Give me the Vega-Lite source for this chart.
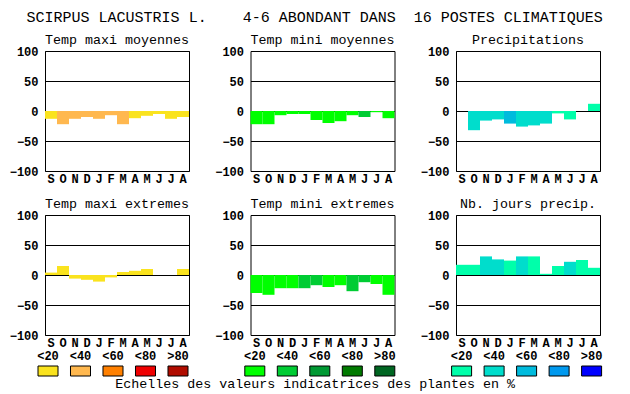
{
  "$schema": "https://vega.github.io/schema/vega-lite/v6.json",
  "background": "white",
  "padding": {"left": 8, "top": 10, "right": 5, "bottom": 2},
  "title": {"text": "SCIRPUS LACUSTRIS L.\u00a0\u00a0\u00a0\u00a04-6 ABONDANT DANS\u00a0\u00a016 POSTES CLIMATIQUES", "font": "Liberation Mono", "fontSize": 15, "fontWeight": "normal", "color": "black", "anchor": "middle", "frame": "bounds", "offset": 7, "dx": 6},
  "config": {
    "view": {"stroke": "black", "strokeWidth": 1},
    "title": {"font": "Liberation Mono", "fontSize": 13.33, "fontWeight": "normal", "color": "black", "anchor": "middle", "frame": "group", "offset": -1},
    "axis": {"labelFont": "Liberation Mono", "labelFontWeight": "bold", "labelFontSize": 12, "labelColor": "black", "ticks": false, "tickSize": 0, "domain": false, "labelFlush": false, "labelOverlap": false},
    "axisY": {"labelPadding": 7, "grid": true, "gridColor": "black", "gridOpacity": 1, "gridWidth": 1, "zindex": 1},
    "axisX": {"labelPadding": 2, "labelAngle": 0, "grid": false}
  },
  "datasets": {
    "clim": [
      {"panel": "Temp maxi moyennes", "mois": "Sep", "valeur": -13, "classe": "<20"},
      {"panel": "Temp maxi moyennes", "mois": "Oct", "valeur": -22, "classe": "<40"},
      {"panel": "Temp maxi moyennes", "mois": "Nov", "valeur": -13, "classe": "<40"},
      {"panel": "Temp maxi moyennes", "mois": "Dec", "valeur": -10, "classe": "<40"},
      {"panel": "Temp maxi moyennes", "mois": "Jan", "valeur": -13, "classe": "<40"},
      {"panel": "Temp maxi moyennes", "mois": "Fev", "valeur": -7, "classe": "<40"},
      {"panel": "Temp maxi moyennes", "mois": "Mar", "valeur": -22, "classe": "<40"},
      {"panel": "Temp maxi moyennes", "mois": "Avr", "valeur": -12, "classe": "<20"},
      {"panel": "Temp maxi moyennes", "mois": "Mai", "valeur": -8, "classe": "<20"},
      {"panel": "Temp maxi moyennes", "mois": "Juin", "valeur": -5, "classe": "<20"},
      {"panel": "Temp maxi moyennes", "mois": "Juil", "valeur": -13, "classe": "<20"},
      {"panel": "Temp maxi moyennes", "mois": "Aou", "valeur": -10, "classe": "<20"},
      {"panel": "Temp mini moyennes", "mois": "Sep", "valeur": -22, "classe": "<20"},
      {"panel": "Temp mini moyennes", "mois": "Oct", "valeur": -22, "classe": "<20"},
      {"panel": "Temp mini moyennes", "mois": "Nov", "valeur": -7, "classe": "<20"},
      {"panel": "Temp mini moyennes", "mois": "Dec", "valeur": -5, "classe": "<20"},
      {"panel": "Temp mini moyennes", "mois": "Jan", "valeur": -5, "classe": "<20"},
      {"panel": "Temp mini moyennes", "mois": "Fev", "valeur": -15, "classe": "<20"},
      {"panel": "Temp mini moyennes", "mois": "Mar", "valeur": -20, "classe": "<20"},
      {"panel": "Temp mini moyennes", "mois": "Avr", "valeur": -17, "classe": "<20"},
      {"panel": "Temp mini moyennes", "mois": "Mai", "valeur": -7, "classe": "<20"},
      {"panel": "Temp mini moyennes", "mois": "Juin", "valeur": -10, "classe": "<40"},
      {"panel": "Temp mini moyennes", "mois": "Juil", "valeur": -2, "classe": "<20"},
      {"panel": "Temp mini moyennes", "mois": "Aou", "valeur": -12, "classe": "<20"},
      {"panel": "Precipitations", "mois": "Sep", "valeur": 0, "classe": "<20"},
      {"panel": "Precipitations", "mois": "Oct", "valeur": -32, "classe": "<40"},
      {"panel": "Precipitations", "mois": "Nov", "valeur": -16, "classe": "<40"},
      {"panel": "Precipitations", "mois": "Dec", "valeur": -14, "classe": "<40"},
      {"panel": "Precipitations", "mois": "Jan", "valeur": -21, "classe": "<60"},
      {"panel": "Precipitations", "mois": "Fev", "valeur": -26, "classe": "<40"},
      {"panel": "Precipitations", "mois": "Mar", "valeur": -24, "classe": "<40"},
      {"panel": "Precipitations", "mois": "Avr", "valeur": -21, "classe": "<40"},
      {"panel": "Precipitations", "mois": "Mai", "valeur": -4, "classe": "<20"},
      {"panel": "Precipitations", "mois": "Juin", "valeur": -14, "classe": "<20"},
      {"panel": "Precipitations", "mois": "Juil", "valeur": 0, "classe": "<20"},
      {"panel": "Precipitations", "mois": "Aou", "valeur": 12, "classe": "<20"},
      {"panel": "Temp maxi extremes", "mois": "Sep", "valeur": 4, "classe": "<20"},
      {"panel": "Temp maxi extremes", "mois": "Oct", "valeur": 15, "classe": "<20"},
      {"panel": "Temp maxi extremes", "mois": "Nov", "valeur": -6, "classe": "<20"},
      {"panel": "Temp maxi extremes", "mois": "Dec", "valeur": -8, "classe": "<20"},
      {"panel": "Temp maxi extremes", "mois": "Jan", "valeur": -11, "classe": "<20"},
      {"panel": "Temp maxi extremes", "mois": "Fev", "valeur": -4, "classe": "<20"},
      {"panel": "Temp maxi extremes", "mois": "Mar", "valeur": 5, "classe": "<20"},
      {"panel": "Temp maxi extremes", "mois": "Avr", "valeur": 7, "classe": "<20"},
      {"panel": "Temp maxi extremes", "mois": "Mai", "valeur": 10, "classe": "<20"},
      {"panel": "Temp maxi extremes", "mois": "Juin", "valeur": 0, "classe": "<20"},
      {"panel": "Temp maxi extremes", "mois": "Juil", "valeur": 0, "classe": "<20"},
      {"panel": "Temp maxi extremes", "mois": "Aou", "valeur": 10, "classe": "<20"},
      {"panel": "Temp mini extremes", "mois": "Sep", "valeur": -30, "classe": "<20"},
      {"panel": "Temp mini extremes", "mois": "Oct", "valeur": -33, "classe": "<20"},
      {"panel": "Temp mini extremes", "mois": "Nov", "valeur": -22, "classe": "<20"},
      {"panel": "Temp mini extremes", "mois": "Dec", "valeur": -22, "classe": "<20"},
      {"panel": "Temp mini extremes", "mois": "Jan", "valeur": -22, "classe": "<40"},
      {"panel": "Temp mini extremes", "mois": "Fev", "valeur": -17, "classe": "<40"},
      {"panel": "Temp mini extremes", "mois": "Mar", "valeur": -20, "classe": "<20"},
      {"panel": "Temp mini extremes", "mois": "Avr", "valeur": -17, "classe": "<20"},
      {"panel": "Temp mini extremes", "mois": "Mai", "valeur": -27, "classe": "<40"},
      {"panel": "Temp mini extremes", "mois": "Juin", "valeur": -12, "classe": "<40"},
      {"panel": "Temp mini extremes", "mois": "Juil", "valeur": -15, "classe": "<20"},
      {"panel": "Temp mini extremes", "mois": "Aou", "valeur": -33, "classe": "<20"},
      {"panel": "Nb. jours precip.", "mois": "Sep", "valeur": 17, "classe": "<20"},
      {"panel": "Nb. jours precip.", "mois": "Oct", "valeur": 17, "classe": "<20"},
      {"panel": "Nb. jours precip.", "mois": "Nov", "valeur": 31, "classe": "<40"},
      {"panel": "Nb. jours precip.", "mois": "Dec", "valeur": 26, "classe": "<40"},
      {"panel": "Nb. jours precip.", "mois": "Jan", "valeur": 24, "classe": "<20"},
      {"panel": "Nb. jours precip.", "mois": "Fev", "valeur": 31, "classe": "<40"},
      {"panel": "Nb. jours precip.", "mois": "Mar", "valeur": 31, "classe": "<20"},
      {"panel": "Nb. jours precip.", "mois": "Avr", "valeur": 2, "classe": "<20"},
      {"panel": "Nb. jours precip.", "mois": "Mai", "valeur": 15, "classe": "<20"},
      {"panel": "Nb. jours precip.", "mois": "Juin", "valeur": 22, "classe": "<40"},
      {"panel": "Nb. jours precip.", "mois": "Juil", "valeur": 25, "classe": "<20"},
      {"panel": "Nb. jours precip.", "mois": "Aou", "valeur": 12, "classe": "<20"}
    ],
    "classes": [
      {"classe": "<20"}, {"classe": "<40"}, {"classe": "<60"}, {"classe": "<80"}, {"classe": ">80"}
    ]
  },
  "spacing": 11,
  "resolve": {"scale": {"color": "independent"}},
  "vconcat": [
    {
      "hconcat": [
        {
          "width": 144, "height": 120,
          "title": {"text": "Temp maxi moyennes"},
          "data": {"name": "clim"},
          "transform": [{"filter": "datum.panel === 'Temp maxi moyennes'"}],
          "mark": {"type": "bar"},
          "encoding": {
            "x": {"field": "mois", "type": "nominal", "sort": ["Sep","Oct","Nov","Dec","Jan","Fev","Mar","Avr","Mai","Juin","Juil","Aou"], "scale": {"paddingInner": 0, "paddingOuter": 0}, "axis": {"title": null, "labelExpr": "substring(datum.label, 0, 1)"}},
            "y": {"field": "valeur", "type": "quantitative", "scale": {"domain": [-100, 100], "nice": false}, "axis": {"title": null, "values": [-100, -50, 0, 50, 100]}},
            "color": {"field": "classe", "type": "nominal", "scale": {"domain": ["<20","<40","<60","<80",">80"], "range": ["#FAE31E","#FFB84F","#FF8000","#EE0000","#B00C00"]}, "legend": null}
          }
        },
        {
          "width": 144, "height": 120,
          "title": {"text": "Temp mini moyennes"},
          "data": {"name": "clim"},
          "transform": [{"filter": "datum.panel === 'Temp mini moyennes'"}],
          "mark": {"type": "bar"},
          "encoding": {
            "x": {"field": "mois", "type": "nominal", "sort": ["Sep","Oct","Nov","Dec","Jan","Fev","Mar","Avr","Mai","Juin","Juil","Aou"], "scale": {"paddingInner": 0, "paddingOuter": 0}, "axis": {"title": null, "labelExpr": "substring(datum.label, 0, 1)"}},
            "y": {"field": "valeur", "type": "quantitative", "scale": {"domain": [-100, 100], "nice": false}, "axis": {"title": null, "values": [-100, -50, 0, 50, 100]}},
            "color": {"field": "classe", "type": "nominal", "scale": {"domain": ["<20","<40","<60","<80",">80"], "range": ["#00FF00","#00CC33","#009933","#007A00","#006622"]}, "legend": null}
          }
        },
        {
          "width": 144, "height": 120,
          "title": {"text": "Precipitations"},
          "data": {"name": "clim"},
          "transform": [{"filter": "datum.panel === 'Precipitations'"}],
          "mark": {"type": "bar"},
          "encoding": {
            "x": {"field": "mois", "type": "nominal", "sort": ["Sep","Oct","Nov","Dec","Jan","Fev","Mar","Avr","Mai","Juin","Juil","Aou"], "scale": {"paddingInner": 0, "paddingOuter": 0}, "axis": {"title": null, "labelExpr": "substring(datum.label, 0, 1)"}},
            "y": {"field": "valeur", "type": "quantitative", "scale": {"domain": [-100, 100], "nice": false}, "axis": {"title": null, "values": [-100, -50, 0, 50, 100]}},
            "color": {"field": "classe", "type": "nominal", "scale": {"domain": ["<20","<40","<60","<80",">80"], "range": ["#00FFAA","#00DDCC","#00BBDD","#0099EE","#0000FF"]}, "legend": null}
          }
        }
      ],
      "spacing": 23.5,
      "resolve": {"scale": {"color": "independent"}}
    },
    {
      "title": {"text": "Echelles des valeurs indicatrices des plantes en %", "orient": "bottom", "anchor": "middle", "frame": "bounds", "offset": 0, "dx": 6.5},
      "spacing": 0,
      "resolve": {"scale": {"color": "independent"}},
      "vconcat": [
        {
          "hconcat": [
            {
              "width": 144, "height": 120,
              "title": {"text": "Temp maxi extremes"},
              "data": {"name": "clim"},
              "transform": [{"filter": "datum.panel === 'Temp maxi extremes'"}],
              "mark": {"type": "bar"},
              "encoding": {
                "x": {"field": "mois", "type": "nominal", "sort": ["Sep","Oct","Nov","Dec","Jan","Fev","Mar","Avr","Mai","Juin","Juil","Aou"], "scale": {"paddingInner": 0, "paddingOuter": 0}, "axis": {"title": null, "labelExpr": "substring(datum.label, 0, 1)"}},
                "y": {"field": "valeur", "type": "quantitative", "scale": {"domain": [-100, 100], "nice": false}, "axis": {"title": null, "values": [-100, -50, 0, 50, 100]}},
                "color": {"field": "classe", "type": "nominal", "scale": {"domain": ["<20","<40","<60","<80",">80"], "range": ["#FAE31E","#FFB84F","#FF8000","#EE0000","#B00C00"]}, "legend": null}
              }
            },
            {
              "width": 144, "height": 120,
              "title": {"text": "Temp mini extremes"},
              "data": {"name": "clim"},
              "transform": [{"filter": "datum.panel === 'Temp mini extremes'"}],
              "mark": {"type": "bar"},
              "encoding": {
                "x": {"field": "mois", "type": "nominal", "sort": ["Sep","Oct","Nov","Dec","Jan","Fev","Mar","Avr","Mai","Juin","Juil","Aou"], "scale": {"paddingInner": 0, "paddingOuter": 0}, "axis": {"title": null, "labelExpr": "substring(datum.label, 0, 1)"}},
                "y": {"field": "valeur", "type": "quantitative", "scale": {"domain": [-100, 100], "nice": false}, "axis": {"title": null, "values": [-100, -50, 0, 50, 100]}},
                "color": {"field": "classe", "type": "nominal", "scale": {"domain": ["<20","<40","<60","<80",">80"], "range": ["#00FF00","#00CC33","#009933","#007A00","#006622"]}, "legend": null}
              }
            },
            {
              "width": 144, "height": 120,
              "title": {"text": "Nb. jours precip."},
              "data": {"name": "clim"},
              "transform": [{"filter": "datum.panel === 'Nb. jours precip.'"}],
              "mark": {"type": "bar"},
              "encoding": {
                "x": {"field": "mois", "type": "nominal", "sort": ["Sep","Oct","Nov","Dec","Jan","Fev","Mar","Avr","Mai","Juin","Juil","Aou"], "scale": {"paddingInner": 0, "paddingOuter": 0}, "axis": {"title": null, "labelExpr": "substring(datum.label, 0, 1)"}},
                "y": {"field": "valeur", "type": "quantitative", "scale": {"domain": [-100, 100], "nice": false}, "axis": {"title": null, "values": [-100, -50, 0, 50, 100]}},
                "color": {"field": "classe", "type": "nominal", "scale": {"domain": ["<20","<40","<60","<80",">80"], "range": ["#00FFAA","#00DDCC","#00BBDD","#0099EE","#0000FF"]}, "legend": null}
              }
            }
          ],
          "spacing": 23.5,
          "resolve": {"scale": {"color": "independent"}}
        },
        {
          "hconcat": [
            {
              "width": 144, "height": 10,
              "view": {"stroke": null},
              "data": {"name": "classes"},
              "mark": {"type": "rect", "stroke": "black", "strokeWidth": 1},
              "encoding": {
                "x": {"field": "classe", "type": "nominal", "sort": ["<20","<40","<60","<80",">80"], "scale": {"range": [-7, 143], "paddingInner": 0.3846, "paddingOuter": 0}, "axis": {"title": null, "orient": "top", "labelPadding": 4}},
                "color": {"field": "classe", "type": "nominal", "scale": {"domain": ["<20","<40","<60","<80",">80"], "range": ["#FAE31E","#FFB84F","#FF8000","#EE0000","#B00C00"]}, "legend": null}
              }
            },
            {
              "width": 144, "height": 10,
              "view": {"stroke": null},
              "data": {"name": "classes"},
              "mark": {"type": "rect", "stroke": "black", "strokeWidth": 1},
              "encoding": {
                "x": {"field": "classe", "type": "nominal", "sort": ["<20","<40","<60","<80",">80"], "scale": {"range": [-7, 143], "paddingInner": 0.3846, "paddingOuter": 0}, "axis": {"title": null, "orient": "top", "labelPadding": 4}},
                "color": {"field": "classe", "type": "nominal", "scale": {"domain": ["<20","<40","<60","<80",">80"], "range": ["#00FF00","#00CC33","#009933","#007A00","#006622"]}, "legend": null}
              }
            },
            {
              "width": 144, "height": 10,
              "view": {"stroke": null},
              "data": {"name": "classes"},
              "mark": {"type": "rect", "stroke": "black", "strokeWidth": 1},
              "encoding": {
                "x": {"field": "classe", "type": "nominal", "sort": ["<20","<40","<60","<80",">80"], "scale": {"range": [-7, 143], "paddingInner": 0.3846, "paddingOuter": 0}, "axis": {"title": null, "orient": "top", "labelPadding": 4}},
                "color": {"field": "classe", "type": "nominal", "scale": {"domain": ["<20","<40","<60","<80",">80"], "range": ["#00FFAA","#00DDCC","#00BBDD","#0099EE","#0000FF"]}, "legend": null}
              }
            }
          ],
          "spacing": 47.8,
          "resolve": {"scale": {"color": "independent"}}
        }
      ]
    }
  ]
}
